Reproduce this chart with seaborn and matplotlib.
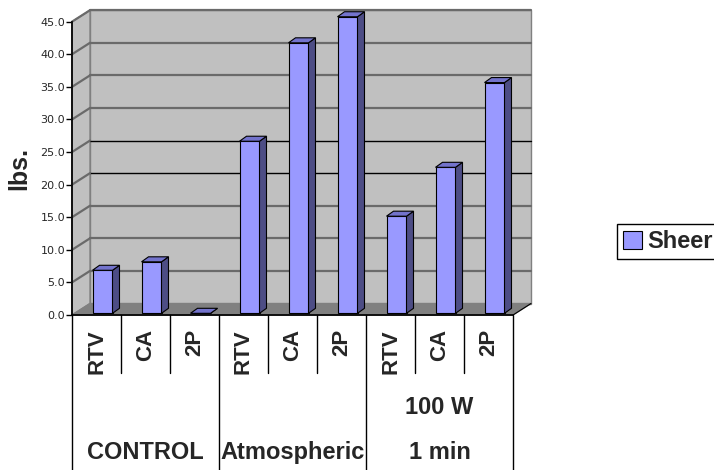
import numpy as np
import pandas as pd
import matplotlib
matplotlib.use("Agg")
import matplotlib.pyplot as plt
import matplotlib.transforms as mtransforms
from matplotlib.patches import Polygon, Patch
import seaborn as sns

# data
groups = ["CONTROL", "Atmospheric", "100 W\n1 min"]
methods = ["RTV", "CA", "2P"]
sheer = [6.6, 7.9, 0.0, 26.4, 41.5, 45.5, 14.9, 22.4, 35.4]
y_ticks = [0, 5, 10, 15, 20, 25, 30, 35, 40, 45]

FRONT = "#9999FF"
SIDE = "#4D4D85"
TOP = "#7373CC"
WALL = "#C0C0C0"
FLOOR = "#808080"

sns.set_theme(style="white")
plt.rcParams["font.family"] = ["Liberation Sans", "DejaVu Sans"]

slots = [g.split("\n")[0] + " " + m for g in groups for m in methods]
df = pd.DataFrame({"slot": slots, "Sheer": sheer})

fig = plt.figure(figsize=(7.14, 4.70), dpi=100)
ax = fig.add_axes([72 / 714, 155 / 470, 441 / 714, 293.3 / 470])
ax.set_facecolor("none")

sns.barplot(data=df, x="slot", y="Sheer", order=slots, color=FRONT,
            saturation=1, edgecolor="black", linewidth=0.8, width=20 / 49,
            ax=ax, zorder=3)
ax.set_xlim(-0.5, 8.5)
ax.set_ylim(0, 45)

# depth offsets in pixels
WDX, WDY = 18, 11.5     # wall depth
BDX, BDY = 7, 5         # bar depth
SHX, SHY = 6, 1.7       # bars sit a bit inside the box
ident = mtransforms.IdentityTransform()


def px(x, y):
    return ax.transData.transform((x, y))


x0, x1 = ax.get_xlim()
# back wall, left wall, floor
bl, br = px(x0, 0), px(x1, 0)
tl, tr = px(x0, 45), px(x1, 45)
back = [bl + (WDX, WDY), br + (WDX, WDY), tr + (WDX, WDY), tl + (WDX, WDY)]
ax.add_patch(Polygon(back, closed=True, facecolor=WALL, edgecolor=FLOOR,
                     linewidth=1, transform=ident, clip_on=False, zorder=0))
left = [bl, tl, tl + (WDX, WDY), bl + (WDX, WDY)]
ax.add_patch(Polygon(left, closed=True, facecolor=WALL, edgecolor=FLOOR,
                     linewidth=1, transform=ident, clip_on=False, zorder=0))
floor = [bl, br, br + (WDX, WDY), bl + (WDX, WDY)]
ax.add_patch(Polygon(floor, closed=True, facecolor=FLOOR, edgecolor=FLOOR,
                     linewidth=1, transform=ident, clip_on=False, zorder=1))

# gridlines on the walls
for v in y_ticks[1:]:
    a, b = px(x0, v), px(x1, v)
    col, lw = ("black", 1.0) if v in (20, 25) else ("#6A6A6A", 1.6)
    ax.plot([a[0] + WDX, b[0] + WDX], [a[1] + WDY, b[1] + WDY], color=col,
            lw=lw, transform=ident, clip_on=False, zorder=1)
    ax.plot([a[0], a[0] + WDX], [a[1], a[1] + WDY], color="#6A6A6A", lw=1.6,
            transform=ident, clip_on=False, zorder=1)

# 3d faces for the bars
shift = mtransforms.ScaledTranslation(SHX / 100, SHY / 100, fig.dpi_scale_trans)
for bar in list(ax.patches):
    if bar.get_zorder() != 3:
        continue
    bx0, by0 = px(bar.get_x(), 0)
    bx1, by1 = px(bar.get_x() + bar.get_width(), bar.get_height())
    bx0, bx1 = bx0 + SHX, bx1 + SHX
    by0, by1 = by0 + SHY, by1 + SHY
    side = [(bx1, by0), (bx1, by1), (bx1 + BDX, by1 + BDY), (bx1 + BDX, by0 + BDY)]
    top = [(bx0, by1), (bx1, by1), (bx1 + BDX, by1 + BDY), (bx0 + BDX, by1 + BDY)]
    for pts, fc in ((side, SIDE), (top, TOP)):
        ax.add_patch(Polygon(pts, closed=True, facecolor=fc, edgecolor="black",
                             linewidth=0.8, transform=ident, clip_on=False, zorder=3))
    bar.set_transform(ax.transData + shift)
    bar.set_clip_on(False)

# axes and ticks
for s in ["top", "right"]:
    ax.spines[s].set_visible(False)
ax.spines["left"].set_color("black")
ax.spines["bottom"].set_color("black")
ax.spines["left"].set_zorder(4)
ax.spines["bottom"].set_zorder(4)
ax.set_yticks(y_ticks)
ax.set_yticklabels(["{:.1f}".format(v) for v in y_ticks], fontsize=8,
                   family="DejaVu Sans")
ax.tick_params(axis="y", left=True, length=4, width=1, color="black", pad=1)
ax.set_xticks(range(len(slots)))
ax.set_xticklabels(methods * len(groups), rotation=90, fontsize=16,
                   fontweight="bold")
ax.tick_params(axis="x", bottom=False, length=0, pad=10)
ax.set_xlabel("")
ax.set_ylabel("")
fig.text(19 / 714, 1 - 169 / 470, "lbs.", rotation=90, fontsize=18,
         fontweight="bold", ha="center", va="center")

# category table lines under the axis
xt = ax.get_xaxis_transform()
for k in range(len(slots) + 1):
    xpos = k - 0.5
    low = -0.56 if k % 3 == 0 else -0.198
    ax.plot([xpos, xpos], [0, low], color="black", lw=1, transform=xt,
            clip_on=False, zorder=4)
fr = px(x1, 0)
ax.plot([fr[0], fr[0] + WDX], [fr[1], fr[1] + WDY], color="black", lw=0.8,
        transform=ident, clip_on=False, zorder=2)

for i, g in enumerate(groups):
    lines = g.split("\n")
    xc = i * 3 + 1
    if len(lines) == 1:
        ax.text(xc, -0.4705, lines[0], transform=xt, ha="center", va="center",
                fontsize=17, fontweight="bold")
    else:
        ax.text(xc, -0.3137, lines[0], transform=xt, ha="center", va="center",
                fontsize=17, fontweight="bold")
        ax.text(xc, -0.4705, lines[1], transform=xt, ha="center", va="center",
                fontsize=17, fontweight="bold")

handle = Patch(facecolor=FRONT, edgecolor="black", linewidth=0.8, label="Sheer")
leg = fig.legend(handles=[handle], loc="upper left",
                 bbox_to_anchor=(617 / 714, 1 - 224 / 470), frameon=True,
                 fancybox=False, edgecolor="black", framealpha=1,
                 borderpad=0.25, handlelength=0.8, handleheight=0.8,
                 handletextpad=0.25, borderaxespad=0,
                 prop={"size": 17, "weight": "bold"})
leg.get_frame().set_linewidth(1)

fig.savefig("out.png", dpi=100)
